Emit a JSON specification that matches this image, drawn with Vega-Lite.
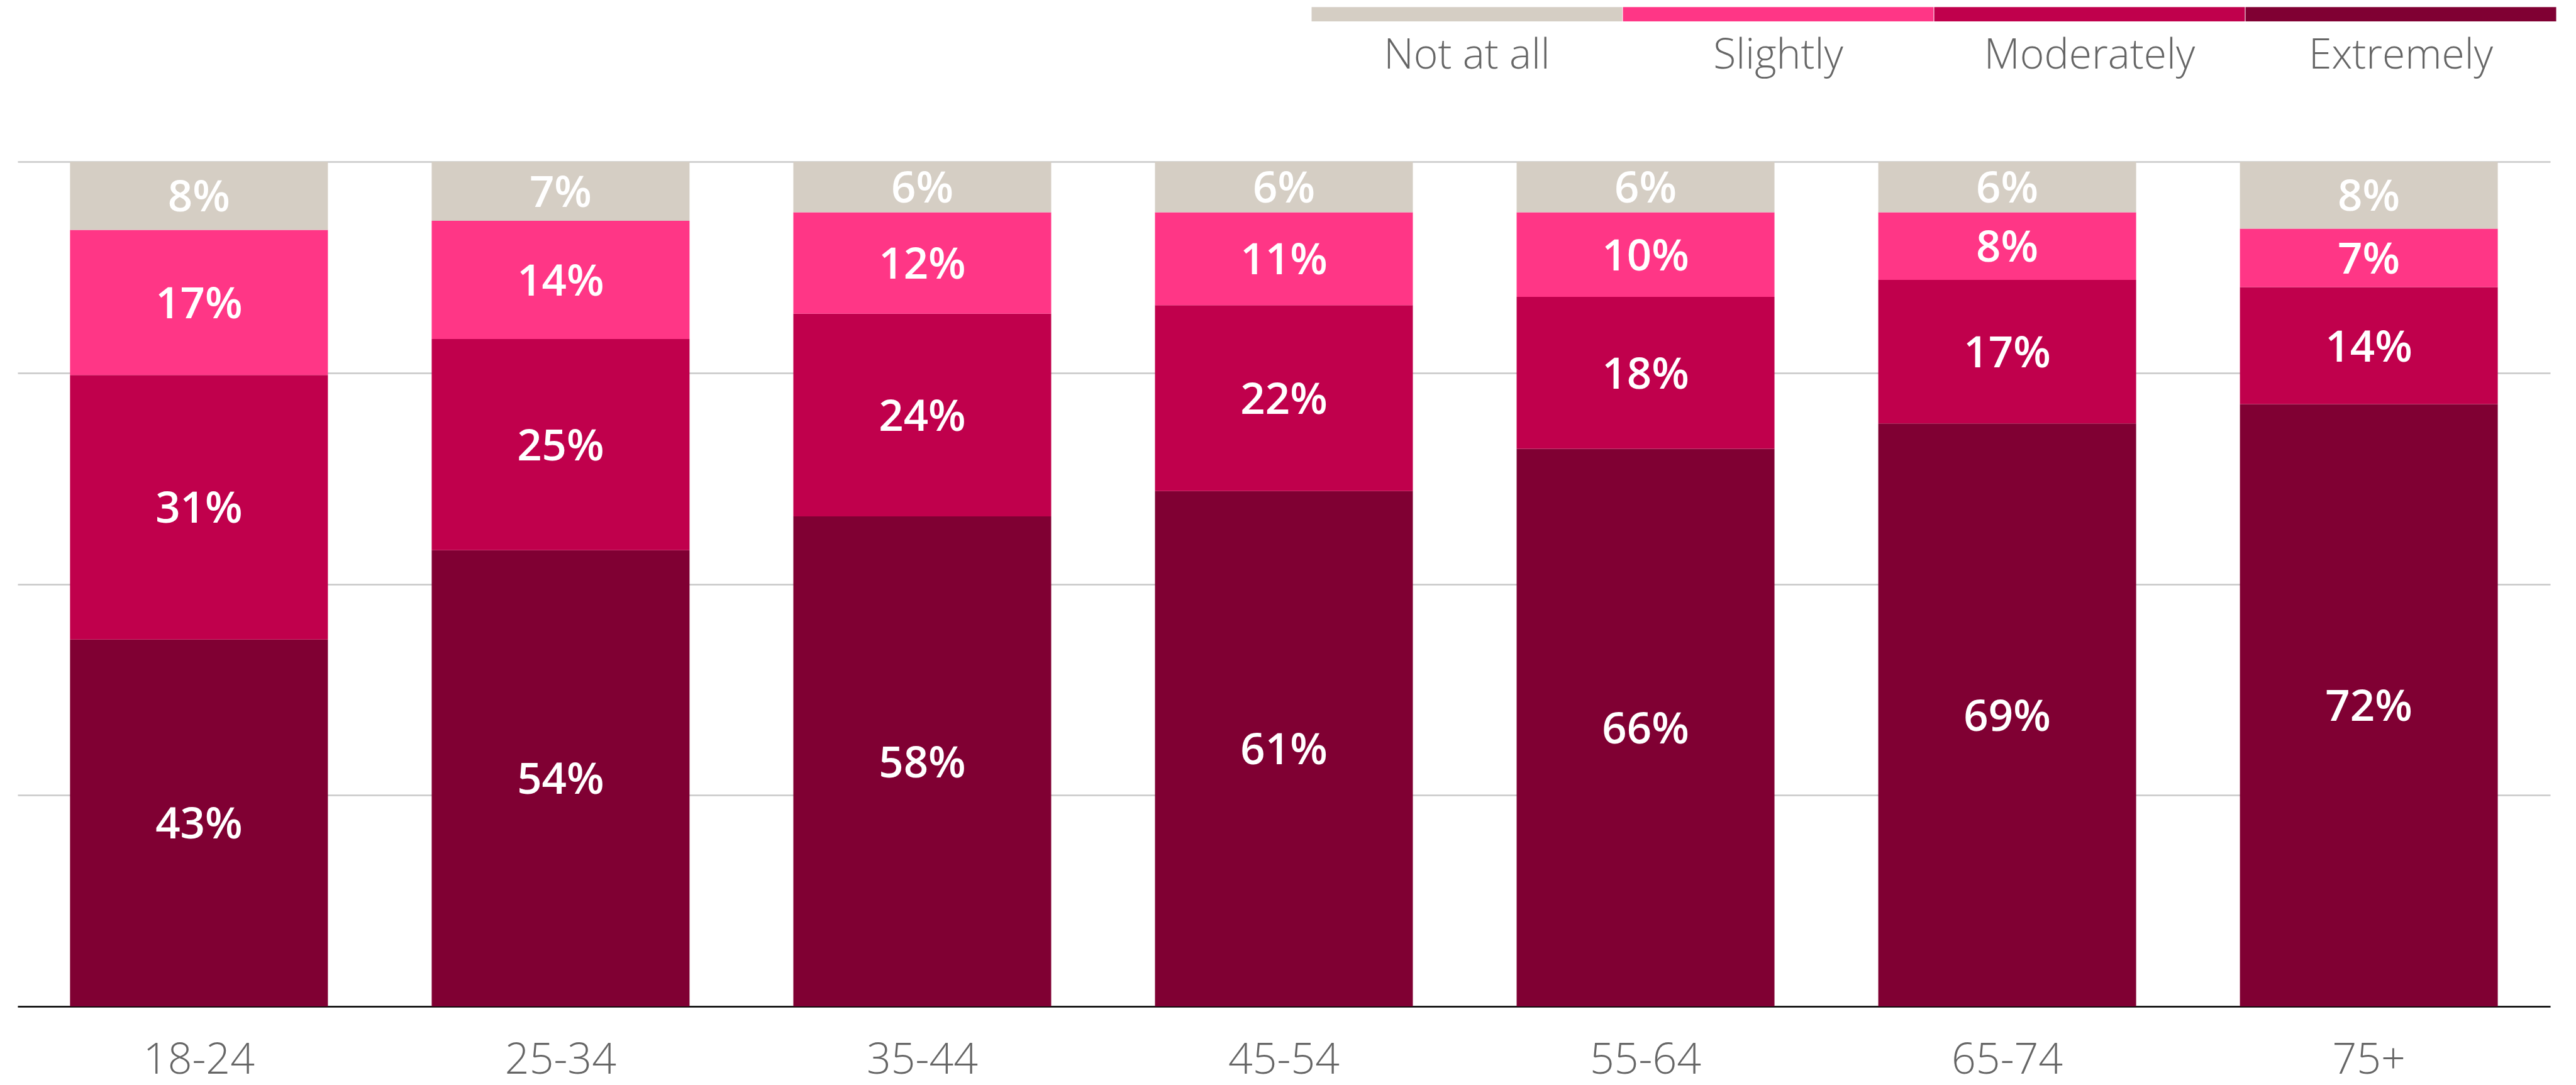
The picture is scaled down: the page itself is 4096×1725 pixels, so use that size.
{
  "$schema": "https://vega.github.io/schema/vega-lite/v6.json",
  "width": 4027,
  "height": 1343,
  "autosize": {"type": "none"},
  "padding": {"left": 28, "top": 257, "right": 41, "bottom": 125},
  "background": "white",
  "config": {"view": {"stroke": null}},
  "data": {"values": [
    {"age": "18-24", "response": "Extremely", "level": 4, "value": 0.43},
    {"age": "18-24", "response": "Moderately", "level": 3, "value": 0.31},
    {"age": "18-24", "response": "Slightly", "level": 2, "value": 0.17},
    {"age": "18-24", "response": "Not at all", "level": 1, "value": 0.08},
    {"age": "25-34", "response": "Extremely", "level": 4, "value": 0.54},
    {"age": "25-34", "response": "Moderately", "level": 3, "value": 0.25},
    {"age": "25-34", "response": "Slightly", "level": 2, "value": 0.14},
    {"age": "25-34", "response": "Not at all", "level": 1, "value": 0.07},
    {"age": "35-44", "response": "Extremely", "level": 4, "value": 0.58},
    {"age": "35-44", "response": "Moderately", "level": 3, "value": 0.24},
    {"age": "35-44", "response": "Slightly", "level": 2, "value": 0.12},
    {"age": "35-44", "response": "Not at all", "level": 1, "value": 0.06},
    {"age": "45-54", "response": "Extremely", "level": 4, "value": 0.61},
    {"age": "45-54", "response": "Moderately", "level": 3, "value": 0.22},
    {"age": "45-54", "response": "Slightly", "level": 2, "value": 0.11},
    {"age": "45-54", "response": "Not at all", "level": 1, "value": 0.06},
    {"age": "55-64", "response": "Extremely", "level": 4, "value": 0.66},
    {"age": "55-64", "response": "Moderately", "level": 3, "value": 0.18},
    {"age": "55-64", "response": "Slightly", "level": 2, "value": 0.10},
    {"age": "55-64", "response": "Not at all", "level": 1, "value": 0.06},
    {"age": "65-74", "response": "Extremely", "level": 4, "value": 0.69},
    {"age": "65-74", "response": "Moderately", "level": 3, "value": 0.17},
    {"age": "65-74", "response": "Slightly", "level": 2, "value": 0.08},
    {"age": "65-74", "response": "Not at all", "level": 1, "value": 0.06},
    {"age": "75+", "response": "Extremely", "level": 4, "value": 0.72},
    {"age": "75+", "response": "Moderately", "level": 3, "value": 0.14},
    {"age": "75+", "response": "Slightly", "level": 2, "value": 0.07},
    {"age": "75+", "response": "Not at all", "level": 1, "value": 0.08}
  ]},
  "encoding": {
    "x": {
      "field": "age", "type": "nominal", "sort": null,
      "scale": {"paddingInner": 0.287, "paddingOuter": 0.145},
      "axis": {
        "title": null, "labelAngle": 0, "ticks": false, "grid": false,
        "domain": true, "domainColor": "#000000", "domainWidth": 2.5,
        "labelFont": "Open Sans", "labelFontSize": 68, "labelFontWeight": 300,
        "labelColor": "#666666", "labelPadding": 52
      }
    }
  },
  "layer": [
    {
      "mark": {"type": "bar"},
      "encoding": {
        "y": {
          "field": "value", "type": "quantitative", "stack": "normalize",
          "axis": {
            "title": null, "labels": false, "ticks": false, "domain": false,
            "grid": true, "gridColor": "#c8c8c8", "gridWidth": 2.5,
            "values": [0, 0.25, 0.5, 0.75, 1]
          }
        },
        "order": {"field": "level", "type": "quantitative", "sort": "descending"},
        "color": {
          "field": "response", "type": "nominal",
          "scale": {
            "domain": ["Not at all", "Slightly", "Moderately", "Extremely"],
            "range": ["#D5CEC4", "#FF3686", "#C0004C", "#800033"]
          },
          "legend": {
            "orient": "none", "legendX": 2058, "legendY": -395,
            "direction": "horizontal", "columns": 4, "title": null,
            "symbolType": "M-1.003,-0.3955H1.003V-0.3038H-1.003Z",
            "symbolSize": 242556, "symbolStrokeWidth": 0, "symbolOpacity": 1,
            "labelAlign": "center", "labelBaseline": "alphabetic", "labelOffset": -246.5,
            "labelFont": "Open Sans", "labelFontSize": 66, "labelFontWeight": 300,
            "labelColor": "#666666", "labelLimit": 1000,
            "columnPadding": 0, "rowPadding": 0, "padding": 0
          }
        }
      }
    },
    {
      "mark": {"type": "text", "color": "#ffffff", "font": "Open Sans", "fontSize": 69, "fontWeight": 600, "baseline": "middle", "align": "center", "dy": 4},
      "encoding": {
        "y": {"field": "value", "type": "quantitative", "stack": "normalize", "bandPosition": 0.5, "axis": {"title": null, "labels": false, "ticks": false, "domain": false, "grid": true, "gridColor": "#c8c8c8", "gridWidth": 2.5, "values": [0, 0.25, 0.5, 0.75, 1]}},
        "order": {"field": "level", "type": "quantitative", "sort": "descending"},
        "detail": {"field": "response", "type": "nominal"},
        "text": {"field": "value", "type": "quantitative", "format": ".0%"}
      }
    }
  ]
}
